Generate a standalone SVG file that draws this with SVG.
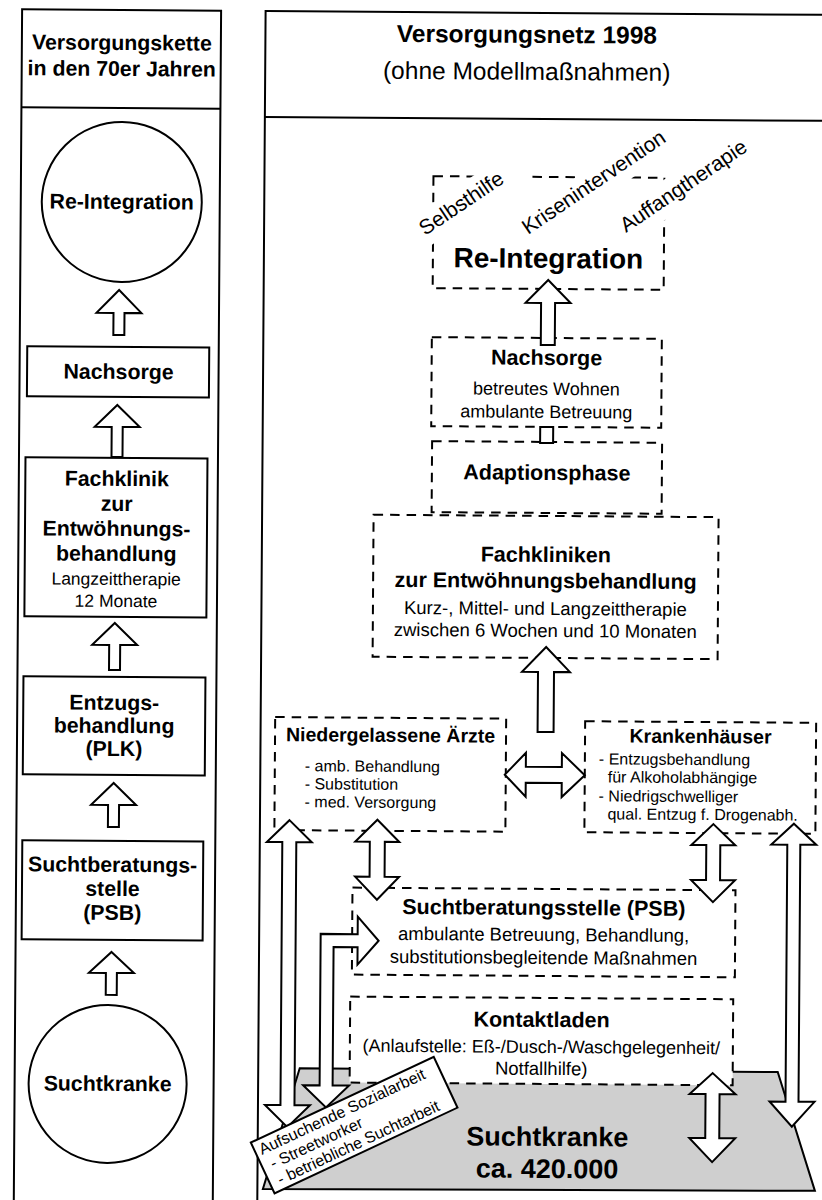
<svg xmlns="http://www.w3.org/2000/svg" width="822" height="1200" viewBox="0 0 822 1200">
<style>
  text{font-family:"Liberation Sans",Arial,Helvetica,sans-serif;fill:#000}
  .c{text-anchor:middle}
  .b{font-weight:bold}
  .frame{fill:none;stroke:#000;stroke-width:2}
  .box{fill:#fff;stroke:#000;stroke-width:2}
  .dbox{fill:#fff;stroke:#000;stroke-width:2;stroke-dasharray:9.5 7}
  .arr{fill:#fff;stroke:#000;stroke-width:2;stroke-linejoin:miter}
  .knock{fill:#fff;stroke:none}
  .ground{fill:#cfcfcf;stroke:#000;stroke-width:2}
  .t21{font-size:21.3px}
  .t17{font-size:17.5px}
  .tb{font-size:21.5px}
  .ts{font-size:18.5px}
  .tm{font-size:19.5px}
  .tl{font-size:16px}
  .tr{font-size:21px}
</style>
<rect width="822" height="1200" fill="#fff"/>
<g transform="rotate(0.4 411 600)">

  <!-- left column: the 1970s chain -->
  <g id="panel-left">
    <rect class="frame" x="18" y="12" width="199" height="1200"/>
    <line class="frame" x1="18" y1="110" x2="217" y2="110"/>
    <text class="c b t21" x="118" y="52">Versorgungskette</text>
    <text class="c b t21" x="118" y="78">in den 70er Jahren</text>
  </g>

  <g id="l-reintegration">
    <circle class="box" cx="119" cy="204" r="80"/>
    <text class="c b t21" x="119" y="211">Re-Integration</text>
  </g>
  <g id="l-nachsorge">
    <rect class="box" x="25.5" y="349" width="182" height="50"/>
    <text class="c b t21" x="117" y="381">Nachsorge</text>
  </g>
  <g id="l-fachklinik">
    <rect class="box" x="24.5" y="460" width="182" height="159"/>
    <text class="c b t21" x="116" y="488">Fachklinik</text>
    <text class="c b t21" x="116" y="513">zur</text>
    <text class="c b t21" x="116" y="538">Entwöhnungs-</text>
    <text class="c b t21" x="116" y="563">behandlung</text>
    <text class="c t17" x="116" y="587">Langzeittherapie</text>
    <text class="c t17" x="116" y="609">12 Monate</text>
  </g>
  <g id="l-entzug">
    <rect class="box" x="24" y="679" width="182" height="98"/>
    <text class="c b t21" x="115" y="712">Entzugs-</text>
    <text class="c b t21" x="115" y="735">behandlung</text>
    <text class="c b t21" x="115" y="758">(PLK)</text>
  </g>
  <g id="l-psb">
    <rect class="box" x="24" y="843" width="181" height="99"/>
    <text class="c b t21" x="114.5" y="874">Suchtberatungs-</text>
    <text class="c b t21" x="114.5" y="898">stelle</text>
    <text class="c b t21" x="114.5" y="922">(PSB)</text>
  </g>
  <g id="l-suchtkranke">
    <circle class="box" cx="111" cy="1086" r="79"/>
    <text class="c b t21" x="111" y="1093">Suchtkranke</text>
  </g>

  <g id="left-connectors">
    <polygon class="arr" points="117,292 139.5,315 122.5,315 122.5,337 111.5,337 111.5,315 94.5,315"/>
    <polygon class="arr" points="116,407 138.5,429 121.5,429 121.5,459 110.5,459 110.5,429 93.5,429"/>
    <polygon class="arr" points="115,625 137.5,647 120.5,647 120.5,672 109.5,672 109.5,647 92.5,647"/>
    <polygon class="arr" points="115,785 137.5,807 120.5,807 120.5,829 109.5,829 109.5,807 92.5,807"/>
    <polygon class="arr" points="114,954 136.5,975 119.5,975 119.5,997 108.5,997 108.5,975 91.5,975"/>
  </g>

  <!-- right column: the 1998 network -->
  <g id="panel-right">
    <rect class="frame" x="261.5" y="12" width="620" height="1200"/>
    <line class="frame" x1="261.5" y1="118" x2="882" y2="118"/>
    <text class="c b" x="523" y="42" font-size="24.5">Versorgungsnetz 1998</text>
    <text class="c" x="523" y="79" font-size="24.5">(ohne Modellmaßnahmen)</text>
  </g>

  <g id="r-suchtkranke">
    <polygon class="ground" points="303,1069 781,1069.5 819,1188 267,1190"/>
    <text class="c b" x="551" y="1145" font-size="27">Suchtkranke</text>
    <text class="c b" x="551" y="1177" font-size="27">ca. 420.000</text>
  </g>

  <g id="r-reintegration">
    <rect class="dbox" x="430.5" y="176" width="231" height="112"/>
    <text class="c b" x="546" y="267" font-size="28">Re-Integration</text>
    <g transform="translate(422.5 236) rotate(-34.4)">
      <rect class="knock" x="-4" y="-23" width="123" height="34"/>
      <text class="tr" x="0" y="0">Selbsthilfe</text>
    </g>
    <g transform="translate(525.4 234.2) rotate(-34.4)">
      <rect class="knock" x="-4" y="-21" width="174" height="32"/>
      <text class="tr" x="0" y="0">Krisenintervention</text>
    </g>
    <g transform="translate(623.4 231.5) rotate(-34.4)">
      <rect class="knock" x="-4" y="-23" width="160" height="34"/>
      <text class="tr" x="0" y="0">Auffangtherapie</text>
    </g>
  </g>

  <g id="r-nachsorge">
    <rect class="dbox" x="430" y="337" width="230" height="89"/>
    <text class="c b tb" x="545" y="364">Nachsorge</text>
    <text class="c" x="545" y="394" font-size="18">betreutes Wohnen</text>
    <text class="c" x="545" y="417" font-size="18">ambulante Betreuung</text>
  </g>

  <g id="r-adaption">
    <rect class="dbox" x="431" y="441" width="230" height="71"/>
    <text class="c b tb" x="546" y="479">Adaptionsphase</text>
  </g>

  <g id="r-fachkliniken">
    <rect class="dbox" x="373" y="515" width="345" height="142"/>
    <text class="c b tb" x="545.5" y="561">Fachkliniken</text>
    <text class="c b tb" x="545.5" y="587">zur Entwöhnungsbehandlung</text>
    <text class="c ts" x="545.5" y="614">Kurz-, Mittel- und Langzeittherapie</text>
    <text class="c ts" x="545.5" y="636">zwischen 6 Wochen und 10 Monaten</text>
  </g>

  <g id="r-aerzte">
    <rect class="dbox" x="276" y="718" width="231" height="113"/>
    <text class="c b tm" x="391.5" y="742">Niedergelassene Ärzte</text>
    <text class="tl" x="306" y="772">- amb. Behandlung</text>
    <text class="tl" x="306" y="790">- Substitution</text>
    <text class="tl" x="306" y="808">- med. Versorgung</text>
  </g>

  <g id="r-krankenhaeuser">
    <rect class="dbox" x="586" y="720" width="231" height="111"/>
    <text class="c b tm" x="701.5" y="741">Krankenhäuser</text>
    <text class="tl" x="600" y="763">- Entzugsbehandlung</text>
    <text class="tl" x="609" y="781">für Alkoholabhängige</text>
    <text class="tl" x="600" y="800">- Niedrigschwelliger</text>
    <text class="tl" x="609" y="818">qual. Entzug f. Drogenabh.</text>
  </g>

  <g id="r-psb">
    <rect class="dbox" x="354.5" y="888" width="383" height="87"/>
    <text class="c b tb" x="546" y="914">Suchtberatungsstelle (PSB)</text>
    <text class="c ts" x="546" y="940">ambulante Betreuung, Behandlung,</text>
    <text class="c ts" x="546" y="963">substitutionsbegleitende Maßnahmen</text>
  </g>

  <g id="r-kontaktladen">
    <rect class="dbox" x="353" y="997" width="383" height="86"/>
    <text class="c b tb" x="544.5" y="1026">Kontaktladen</text>
    <text class="c" x="544.5" y="1052" font-size="18">(Anlaufstelle: Eß-/Dusch-/Waschgelegenheit/</text>
    <text class="c ts" x="544.5" y="1074">Notfallhilfe)</text>
  </g>

  <g id="right-connectors">
    <!-- Nachsorge -> Re-Integration -->
    <polygon class="arr" points="546,279 568.5,302 553,302 553,344 539,344 539,302 523.5,302"/>
    <!-- stub between Adaptionsphase and Nachsorge -->
    <rect class="arr" x="539" y="426" width="13" height="16"/>
    <!-- up into Fachkliniken -->
    <polygon class="arr" points="546.5,646 570.5,671 554.5,671 554.5,731 538.5,731 538.5,671 522.5,671"/>
    <!-- Aerzte <-> Krankenhaeuser -->
    <polygon class="arr" points="506,774 527,752 527,766 563,766 563,752 586,774 563,796 563,782 527,782 527,796"/>
    <!-- long left: Suchtkranke <-> Aerzte -->
    <polygon class="arr" points="291,821 313.5,843 298,843 298,1106 313.5,1106 291,1128 268.5,1106 284,1106 284,843 268.5,843"/>
    <!-- Aerzte <-> PSB -->
    <polygon class="arr" points="379,820 401,842 386.5,842 386.5,877 401,877 379,900 357,877 371.5,877 371.5,842 357,842"/>
    <!-- outreach: Suchtkranke <-> PSB (elbow) -->
    <polygon class="arr" points="381,941 360,965 360,947.5 336,947.5 336,1086 352.5,1086 329.5,1108 306.5,1086 323,1086 323,934.5 360,934.5 360,917"/>
    <!-- Krankenhaeuser <-> PSB -->
    <polygon class="arr" points="715,822 737,843 722,843 722,878 737,878 715,900 693,878 708,878 708,843 693,843"/>
    <!-- long right: Suchtkranke <-> Krankenhaeuser -->
    <polygon class="arr" points="795.5,821 818,842 802,842 802,1099 818,1099 795.5,1124 773,1099 789,1099 789,842 773,842"/>
    <!-- Kontaktladen <-> Suchtkranke -->
    <polygon class="arr" points="716,1071 739,1092 723,1092 723,1136 739,1136 716,1160 693,1136 709,1136 709,1092 693,1092"/>
  </g>

  <g id="r-aufsuchend" transform="translate(266 1156) rotate(-25.5)">
    <rect class="box" x="-5" y="-16" width="202" height="56"/>
    <text class="tl" x="0" y="0">Aufsuchende Sozialarbeit</text>
    <text class="tl" x="4" y="17.5">- Streetworker</text>
    <text class="tl" x="4" y="35">- betriebliche Suchtarbeit</text>
  </g>

</g>
</svg>
